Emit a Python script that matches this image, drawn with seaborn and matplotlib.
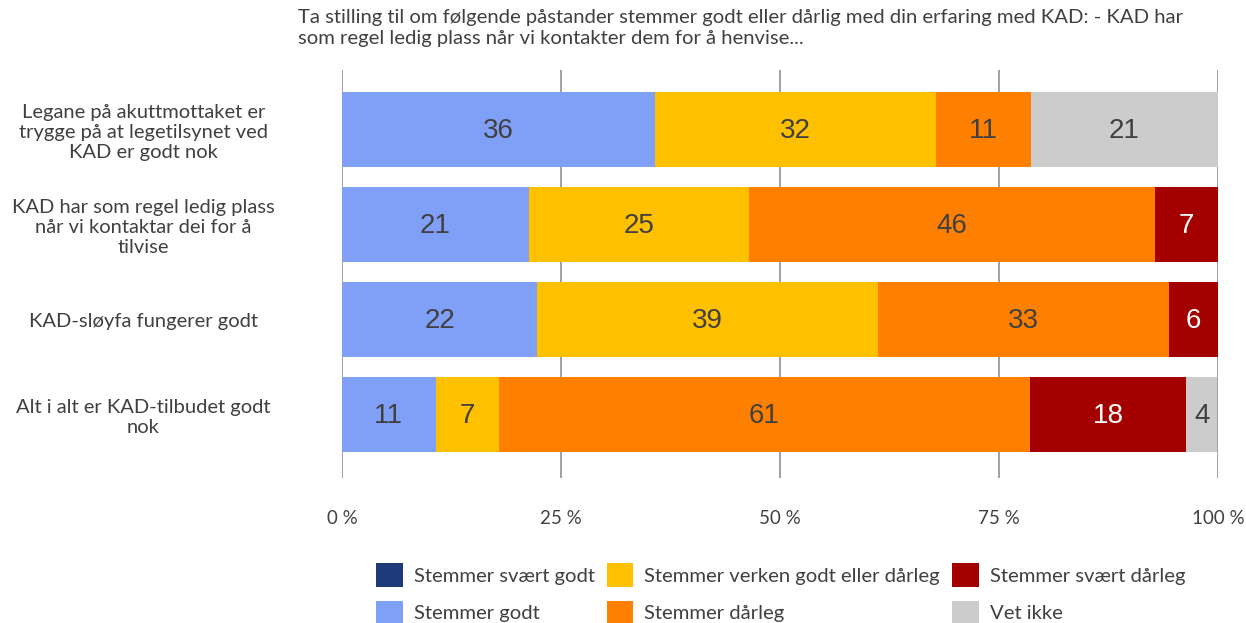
import numpy as np
import pandas as pd
import matplotlib
matplotlib.use("Agg")
import matplotlib.pyplot as plt
import seaborn as sns
from matplotlib.patches import Patch

sns.set_theme(style="white")
plt.rcParams['font.family'] = ['Lato', 'DejaVu Sans']

title = ("Ta stilling til om følgende påstander stemmer godt eller dårlig med din erfaring med KAD: - KAD har\n"
         "som regel ledig plass når vi kontakter dem for å henvise...")

categories = [
    "Legane på akuttmottaket er\ntrygge på at legetilsynet ved\nKAD er godt nok",
    "KAD har som regel ledig plass\nnår vi kontaktar dei for å\ntilvise",
    "KAD-sløyfa fungerer godt",
    "Alt i alt er KAD-tilbudet godt\nnok",
]
series_names = ["Stemmer svært godt", "Stemmer godt", "Stemmer verken godt eller dårleg",
                "Stemmer dårleg", "Stemmer svært dårleg", "Vet ikke"]
svaert_godt = [0.0, 0.0, 0.0, 0.0]
godt = [35.7, 21.3, 22.3, 10.7]
verken = [32.1, 25.2, 38.9, 7.2]
daarleg = [10.8, 46.3, 33.2, 60.6]
svaert_daarleg = [0.0, 7.2, 5.6, 17.9]
vet_ikke = [21.4, 0.0, 0.0, 3.5]
tick_values = [0, 25, 50, 75, 100]
tick_labels = ["0 %", "25 %", "50 %", "75 %", "100 %"]

colors = ["#1F3A78", "#80A0F8", "#FFC000", "#FF8000", "#A50000", "#CCCCCC"]
text_colors = ["white", "#404040", "#404040", "#404040", "white", "#404040"]

values = [svaert_godt, godt, verken, daarleg, svaert_daarleg, vet_ikke]

fig = plt.figure(figsize=(12.46, 6.23), dpi=100)
ax = fig.add_axes([342/1246, 1-478/623, (1218-342)/1246, (478-70)/623])

cum = np.cumsum(np.array(values), axis=0)
for i in range(len(values)-1, -1, -1):
    df = pd.DataFrame({"cat": categories, "val": cum[i]})
    sns.barplot(data=df, x="val", y="cat", orient="h", color=colors[i],
                width=0.79, ax=ax, saturation=1, zorder=2, order=categories,
                edgecolor="none", linewidth=0)

for i, vals in enumerate(values):
    for j, v in enumerate(vals):
        if round(v) <= 0:
            continue
        center = cum[i][j] - v/2
        ax.text(center, j + 0.02, f"{round(v)}", ha="center", va="center",
                fontsize=20, color=text_colors[i], family="Liberation Sans", zorder=3)

ax.set_xlim(0, 100)
ax.set_ylim(3.668, -0.626)
ax.set_xticks(tick_values)
ax.set_xticklabels(tick_labels, fontsize=13.5, color="#404040")
ax.grid(False)
for t in tick_values:
    ax.axvline(t, color="#9A9A9A", lw=1.3, zorder=1)
for s in ax.spines.values():
    s.set_visible(False)
ax.set_xlabel("")
ax.set_ylabel("")
ax.tick_params(axis="x", length=0, pad=23)
ax.tick_params(axis="y", length=0, pad=143)
for lab in ax.get_yticklabels():
    lab.set_ha("center")
    lab.set_multialignment("center")
    lab.set_fontsize(14.5)
    lab.set_color("#404040")
    lab.set_linespacing(1.22)

fig.text(298/1246, 1-9/623, title, ha="left", va="top", fontsize=14.6, color="#404040",
         linespacing=1.3)

handles = [Patch(facecolor=c, edgecolor="none") for c in colors]
leg = fig.legend(handles, series_names, ncol=3, loc="upper left",
                 bbox_to_anchor=(358/1246, 1-545/623), frameon=False,
                 fontsize=14.6, handlelength=1.3, handleheight=1.4,
                 columnspacing=0.6, labelspacing=0.7, handletextpad=0.55,
                 borderpad=0.4)
for t in leg.get_texts():
    t.set_color("#404040")

fig.savefig("out.png", dpi=100)
